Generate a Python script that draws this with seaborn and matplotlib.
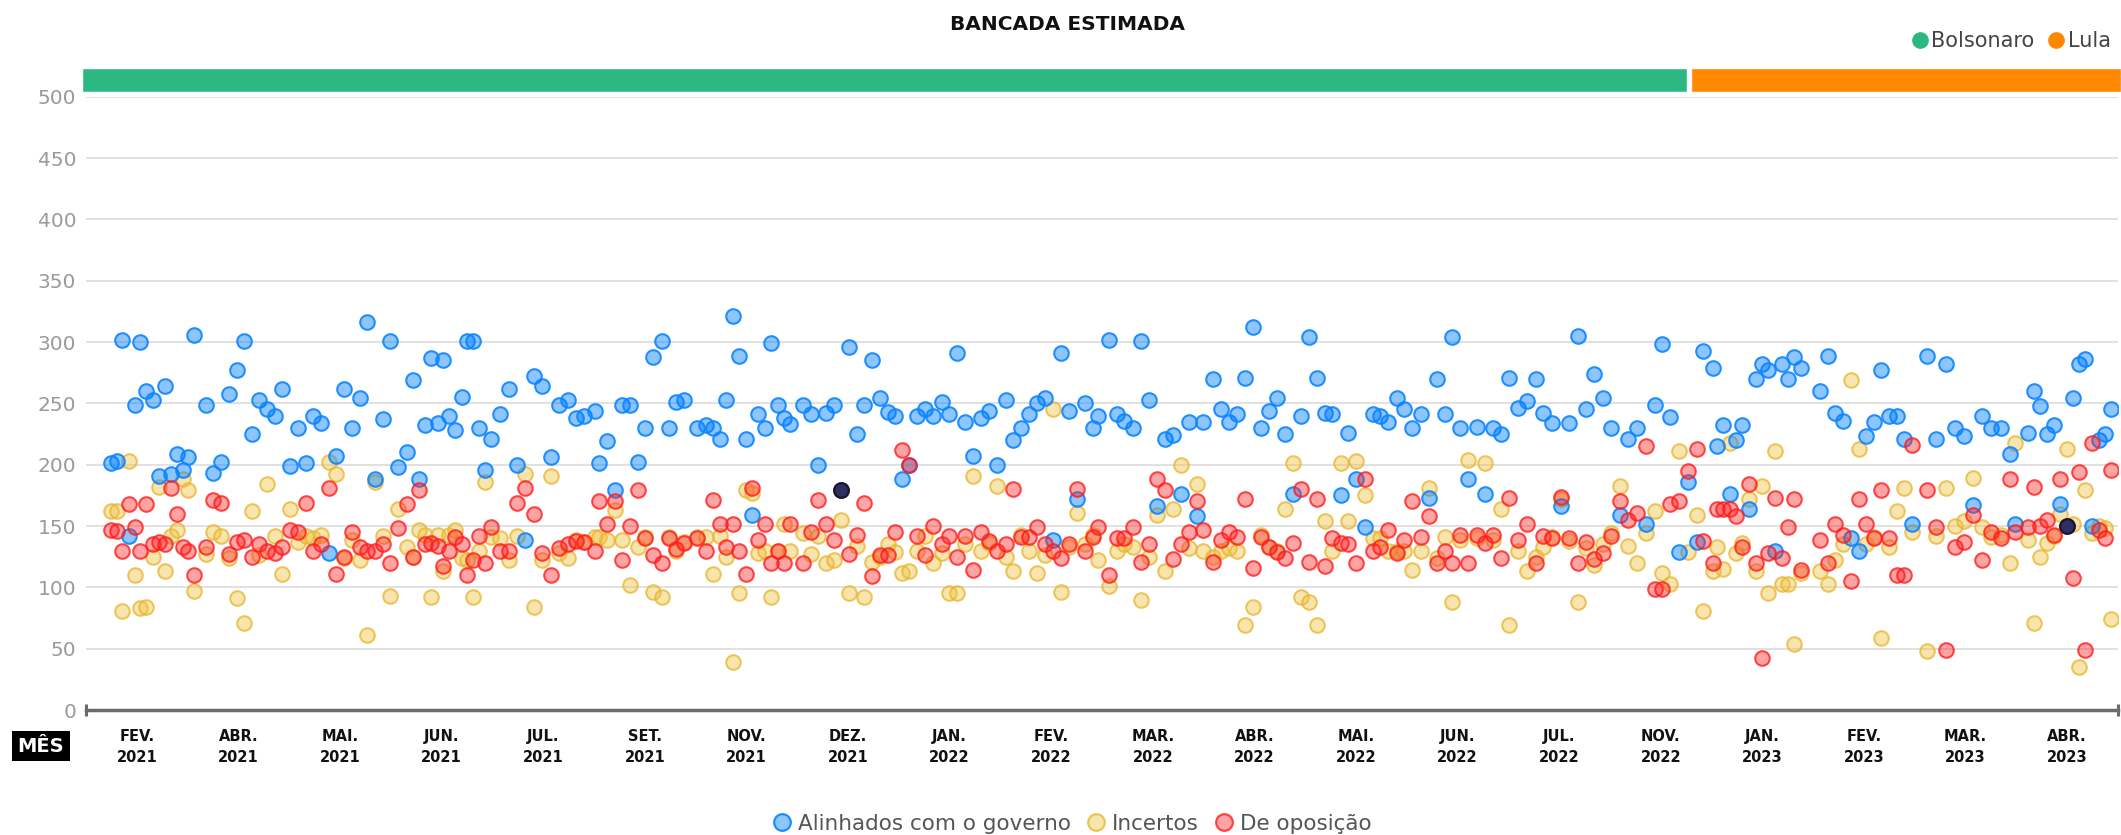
import matplotlib
matplotlib.use("Agg")

import matplotlib.pyplot as plt
from matplotlib.lines import Line2D
import pandas as pd
import seaborn as sns

output_filename = "out.png"

# rótulos dos meses (uma faixa por mês no eixo x)
meses = ["FEV.\n2021", "ABR.\n2021", "MAI.\n2021", "JUN.\n2021", "JUL.\n2021",
         "SET.\n2021", "NOV.\n2021", "DEZ.\n2021", "JAN.\n2022", "FEV.\n2022",
         "MAR.\n2022", "ABR.\n2022", "MAI.\n2022", "JUN.\n2022", "JUL.\n2022",
         "NOV.\n2022", "JAN.\n2023", "FEV.\n2023", "MAR.\n2023", "ABR.\n2023"]

# posição de cada votação (índice do mês + fração do mês)
t_votos = [
    0.243, 0.302, 0.357, 0.420, 0.479, 0.534, 0.594, 0.656, 0.716, 0.775, 0.834, 0.893, 0.952,
    1.007, 1.066, 1.178, 1.253, 1.332, 1.407, 1.483, 1.555, 1.631, 1.706, 1.781, 1.860, 1.932,
    2.008, 2.090, 2.162, 2.237, 2.313, 2.389, 2.464, 2.542, 2.618, 2.694, 2.769,
    2.842, 2.920, 2.99, 3.074, 3.162, 3.221, 3.281, 3.340, 3.396, 3.462, 3.517, 3.576, 3.635,
    3.698, 3.747, 3.812, 3.871, 3.930, 3.989, 4.078, 4.166, 4.242, 4.321, 4.406, 4.491, 4.574,
    4.652, 4.741, 4.820, 4.905, 5.01, 5.052, 5.128, 5.207, 5.279, 5.354, 5.430, 5.505, 5.584,
    5.666, 5.738, 5.807, 5.886, 6.01, 6.102, 6.174, 6.240, 6.299, 6.365, 6.430, 6.493, 6.558,
    6.617, 6.683, 6.745, 6.808, 6.873, 6.932, 7.054, 7.133, 7.208, 7.283, 7.359, 7.434, 7.510,
    7.586, 7.660, 7.739, 7.815, 7.891, 7.966, 8.028, 8.103, 8.182, 8.261, 8.340, 8.422, 8.497,
    8.570, 8.652, 8.727, 8.809, 8.888, 8.963, 9.052, 9.127, 9.200, 9.281, 9.357, 9.439, 9.515,
    9.596, 9.675, 9.751, 9.833, 9.908, 9.96, 10.066, 10.145, 10.219, 10.305, 10.384, 10.463,
    10.538, 10.620, 10.696, 10.774, 10.853, 10.932, 10.99, 11.096, 11.171, 11.250, 11.326,
    11.407, 11.483, 11.562, 11.647, 11.719, 11.801, 11.877, 11.956, 12.034, 12.113, 12.192,
    12.267, 12.349, 12.424, 12.500, 12.586, 12.664, 12.736, 12.818, 12.900, 12.975, 13.054,
    13.137, 13.215, 13.294, 13.373, 13.448, 13.527, 13.605, 13.691, 13.767, 13.845, 13.924,
    14.003, 14.098, 14.180,
    14.269, 14.343, 14.432, 14.515, 14.596, 14.682, 14.761, 14.846, 14.928, 15.007, 15.098,
    15.180, 15.263, 15.354, 15.443, 15.515, 15.594, 15.682, 15.771, 15.853, 15.918, 16.01,
    16.050, 16.115, 16.181, 16.240, 16.302, 16.368, 16.434, 16.499, 16.558, 16.624, 16.690,
    16.749, 16.814, 16.877, 17.067,
    17.143, 17.215, 17.296, 17.372, 17.448, 17.523, 17.595, 17.670, 17.749, 17.828, 17.897,
    17.969, 18.120, 18.212, 18.304, 18.396, 18.487, 18.576, 18.664, 18.753, 18.848, 18.940,
    18.99, 19.111, 19.176, 19.235, 19.301, 19.367, 19.426, 19.495, 19.554, 19.613, 19.678,
    19.744, 19.816, 19.872, 19.931,
]

alinhados = [
    201, 203, 302, 142, 249, 300, 260, 253, 191, 264, 192, 209, 196, 206, 306, 249, 193, 202, 258,
    277, 301, 225, 253, 245, 240, 262, 199, 230, 201, 240, 234, 128, 207, 262, 230, 254, 316,
    188, 237, 301, 198, 210, 269, 188, 232, 287, 234, 285, 240, 228, 255, 301, 301, 230, 196, 221,
    241, 262, 200, 139, 272, 264, 206, 249, 253, 238, 240, 244, 201, 219, 179, 249, 249, 202, 230, 288,
    301, 230, 251, 253, 230, 232, 230, 221, 253, 321, 289, 221, 159, 241, 230, 299, 249, 238, 233,
    249, 241, 200, 242, 249, 179, 296, 225, 249, 285, 254, 243, 240, 188, 200, 240, 245, 240, 251, 241,
    291, 235, 207, 238, 244, 200, 253, 220, 230, 241, 250, 254, 139, 291, 244, 172, 250, 230, 240,
    302, 241, 236, 230, 301, 253, 166, 221, 224, 176, 235, 158, 235, 270, 245, 235, 241,
    271, 312, 230, 244, 254, 225, 176, 240, 304, 271, 242, 241, 175, 226, 188, 149, 241, 240, 235,
    254, 245, 230, 241, 173, 270, 241, 304, 230, 188, 231, 176, 230, 225, 271, 246, 252,
    270, 242, 234, 166, 234, 305, 245, 274, 254, 230, 159, 221, 230, 152, 249, 298, 239, 129, 186,
    137, 293, 279, 215, 232, 176, 220, 232, 164, 270, 282, 277, 130, 282, 270, 288, 279, 260,
    289, 242, 236, 140, 130, 223, 235, 277, 240, 240, 221, 152, 289, 221, 282, 230, 223, 167, 240,
    230, 230, 209, 152, 226, 260, 248, 225, 232, 168, 150, 254, 282, 286, 150, 220, 225, 245,
]

incertos = [
    162, 162, 81, 203, 110, 83, 84, 125, 182, 113, 142, 147, 188, 179, 97, 127, 145, 142, 124,
    91, 71, 162, 126, 184, 142, 111, 164, 137, 142, 140, 143, 202, 192, 124, 139, 122, 61,
    186, 142, 93, 164, 133, 125, 147, 143, 92, 143, 113, 143, 147, 124, 122, 92, 130, 186, 141,
    140, 122, 142, 192, 84, 122, 191, 128, 124, 139, 137, 141, 141, 139, 163, 139, 102, 133, 141, 96,
    92, 141, 130, 137, 141, 141, 111, 142, 125, 39, 95, 179, 177, 128, 130, 92, 130, 152, 130,
    144, 127, 142, 120, 122, 155, 95, 134, 92, 121, 125, 135, 129, 112, 113, 130, 142, 120, 128, 95,
    95, 135, 191, 130, 136, 183, 125, 113, 143, 130, 112, 126, 245, 96, 133, 161, 135, 143, 122,
    101, 130, 135, 133, 90, 125, 159, 113, 164, 200, 132, 184, 130, 125, 130, 132, 130,
    69, 84, 143, 133, 130, 164, 201, 92, 88, 69, 154, 130, 201, 154, 203, 175, 140, 140, 130,
    130, 130, 114, 130, 181, 124, 141, 88, 139, 204, 140, 201, 139, 164, 69, 130, 113,
    125, 133, 141, 172, 138, 88, 132, 118, 135, 144, 183, 134, 120, 144, 162, 112, 103, 211, 129,
    159, 81, 113, 133, 115, 218, 128, 136, 172, 113, 183, 95, 211, 103, 103, 54, 112, 113,
    103, 122, 135, 269, 213, 135, 141, 59, 133, 162, 181, 145, 48, 142, 181, 150, 154, 189, 149,
    141, 143, 120, 218, 139, 71, 125, 136, 142, 160, 213, 152, 35, 179, 144, 150, 148, 74,
]

oposicao = [
    147, 146, 130, 168, 149, 130, 168, 135, 137, 135, 181, 160, 133, 130, 110, 133, 171, 169, 127,
    137, 139, 125, 135, 130, 128, 133, 147, 145, 169, 130, 135, 181, 111, 125, 145, 133, 130,
    130, 135, 120, 148, 168, 125, 179, 135, 136, 134, 117, 130, 141, 135, 110, 122, 142, 120, 149,
    130, 130, 169, 181, 160, 128, 110, 132, 135, 138, 137, 130, 170, 152, 170, 122, 150, 179, 140, 126,
    120, 140, 131, 136, 140, 130, 171, 152, 133, 152, 130, 111, 181, 139, 152, 120, 130, 120, 152,
    120, 145, 171, 152, 139, 179, 127, 143, 169, 109, 126, 126, 145, 212, 200, 142, 126, 150, 135, 142,
    125, 142, 114, 145, 138, 130, 135, 180, 141, 141, 149, 135, 130, 124, 135, 180, 130, 141, 149,
    110, 140, 140, 149, 121, 135, 188, 179, 123, 135, 145, 170, 147, 121, 139, 145, 141,
    172, 116, 141, 133, 129, 124, 136, 180, 121, 172, 117, 140, 136, 135, 120, 188, 130, 133, 147,
    128, 139, 170, 141, 158, 120, 130, 120, 143, 120, 143, 136, 143, 124, 173, 139, 152,
    120, 142, 140, 174, 140, 120, 137, 123, 128, 142, 170, 155, 161, 215, 99, 99, 168, 170, 195,
    213, 138, 120, 164, 164, 164, 158, 133, 184, 120, 42, 128, 173, 124, 149, 172, 114, 139,
    120, 152, 143, 105, 172, 152, 140, 179, 140, 110, 110, 216, 179, 149, 49, 133, 137, 159, 122,
    145, 140, 188, 145, 149, 182, 150, 155, 143, 188, 150, 108, 194, 49, 218, 147, 140, 196,
]

# votações destacadas (ponto escuro)
destaques = [7.434, 19.495]

# troca de governo na barra superior
governos = ["Bolsonaro", "Lula"]
inicio_governo = [0.0, 15.78]
fim_governo = [15.78, 20.0]
cores_governo = ["#2db883", "#ff8800"]

series = ["Alinhados com o governo", "Incertos", "De oposição"]
estilos = {
    "Alinhados com o governo": ((0.0, 0.5, 1.0, 0.45), (0.05, 0.52, 1.0, 0.9)),
    "Incertos": ((0.94, 0.76, 0.25, 0.42), (0.91, 0.71, 0.18, 0.75)),
    "De oposição": ((1.0, 0.15, 0.15, 0.42), (1.0, 0.1, 0.1, 0.78)),
}

df = pd.DataFrame({"t": t_votos,
                   "Alinhados com o governo": alinhados,
                   "Incertos": incertos,
                   "De oposição": oposicao})
longo = df.melt(id_vars="t", var_name="grupo", value_name="deputados")

sns.set_theme(style="white")
plt.rcParams["font.family"] = ["DejaVu Sans"]

W, H = 2121, 835
fig = plt.figure(figsize=(W / 100, H / 100), dpi=100)
ax = fig.add_axes([86 / W, 125 / H, 2032 / W, 613.3 / H])

# ordem de desenho: incertos embaixo, oposição por cima
for grupo in ["Incertos", "Alinhados com o governo", "De oposição"]:
    face, borda = estilos[grupo]
    sub = longo[longo["grupo"] == grupo]
    sns.scatterplot(data=sub, x="t", y="deputados", ax=ax, color=face,
                    edgecolor=borda, linewidth=1.5, s=110, legend=False, zorder=3)

dest = df[df["t"].isin(destaques)]
sns.scatterplot(data=dest, x="t", y="Alinhados com o governo", ax=ax, color="#2e3160",
                edgecolor="#15152e", linewidth=1.5, s=110, legend=False, zorder=4)

ax.set_xlim(0, 20)
ax.set_ylim(0, 500)
ax.set_yticks(range(0, 501, 50))
ax.yaxis.grid(True, color="#dedede", linewidth=1.3)
ax.xaxis.grid(False)
ax.set_axisbelow(True)
for lado in ["top", "right", "left"]:
    ax.spines[lado].set_visible(False)
ax.spines["bottom"].set_color("#6b6b6b")
ax.spines["bottom"].set_linewidth(2.5)
ax.tick_params(axis="y", length=0, pad=7, labelsize=14.5, labelcolor="#9a9a9a")

ax.set_xticks(range(1, 20))
ax.set_xticklabels([])
ax.set_xticks([i + 0.5 for i in range(20)], minor=True)
ax.set_xticklabels(meses, minor=True, fontsize=10.5, fontweight="bold",
                   color="#111111", linespacing=1.45)
ax.tick_params(axis="x", which="major", direction="in", length=8, width=1.6,
               color="#6b6b6b")
ax.tick_params(axis="x", which="minor", length=0, pad=14)
ax.plot([0, 20], [0, 0], marker="|", markersize=9, mew=2.2, color="#6b6b6b",
        ls="none", clip_on=False, zorder=5)
ax.set_xlabel("")
ax.set_ylabel("")

# barra de governos
ax_barra = fig.add_axes([86 / W, 743 / H, 2032 / W, 24 / H])
ax_barra.set_xlim(0, 20)
ax_barra.set_ylim(0, 1)
ax_barra.axis("off")
for i, (ini, fim, cor) in enumerate(zip(inicio_governo, fim_governo, cores_governo)):
    esq = ini - 0.04 if i == 0 else ini + 0.02
    dir_ = fim - 0.02 if i == 0 else fim + 0.03
    ax_barra.barh(0.5, dir_ - esq, left=esq, height=1, color=cor, clip_on=False)

fig.text(1068 / W, 1 - 24 / H, "BANCADA ESTIMADA", ha="center", va="center",
         fontsize=14.5, fontweight="bold", color="#111111")

fig.text(41 / W, 1 - 746 / H, "MÊS", ha="center", va="center", color="white",
         fontsize=14, fontweight="bold",
         bbox=dict(boxstyle="square,pad=0.28", fc="black", ec="none"))

h_gov = [Line2D([], [], marker="o", ls="", markersize=11, markerfacecolor=c,
                markeredgecolor=c) for c in cores_governo]
fig.legend(h_gov, governos, loc="center right", bbox_to_anchor=(1.004, 1 - 41 / H),
           ncol=2, frameon=False, fontsize=15, handletextpad=0.1,
           columnspacing=0.6, handlelength=0.9, labelcolor="#444444")

h_ser = [Line2D([], [], marker="o", ls="", markersize=12, markerfacecolor=estilos[g][0],
                markeredgecolor=estilos[g][1], markeredgewidth=1.6) for g in series]
fig.legend(h_ser, series, loc="center", bbox_to_anchor=(1072 / W, 11 / H),
           ncol=3, frameon=False, fontsize=15.5, handletextpad=0.3,
           columnspacing=0.7, handlelength=0.9, labelcolor="#555555")

plt.savefig(output_filename, dpi=100)
